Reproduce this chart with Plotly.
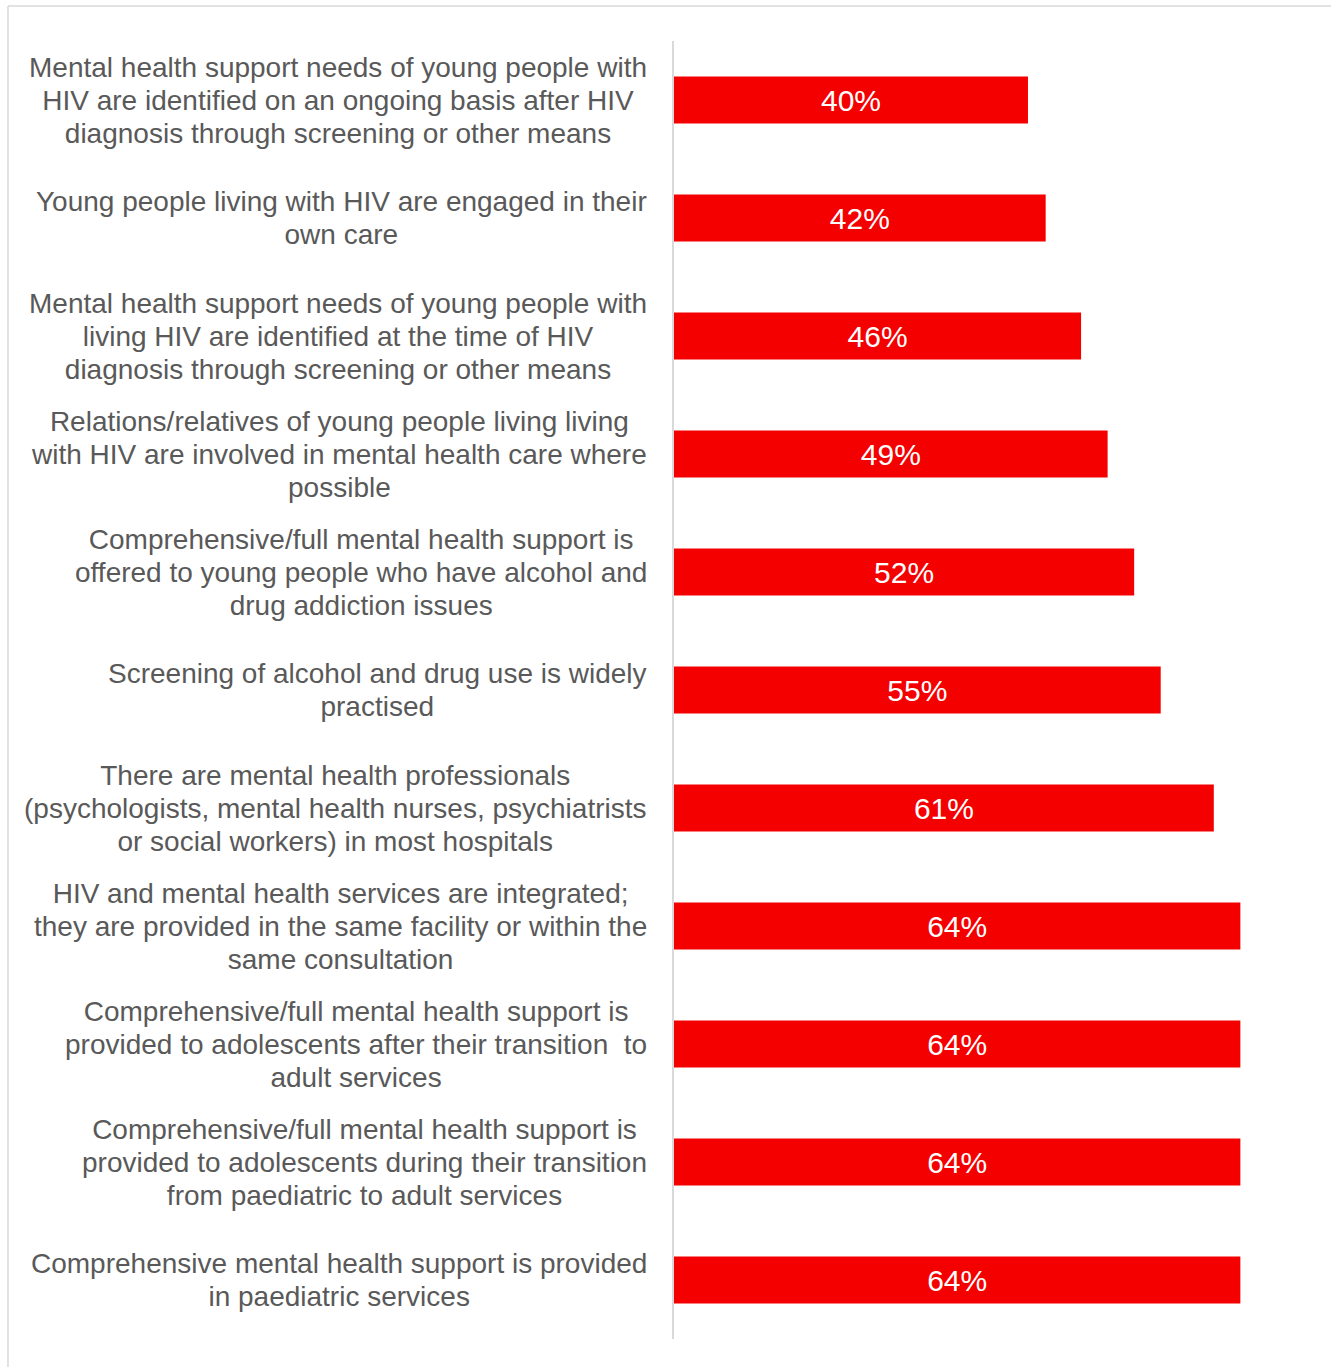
import plotly.graph_objects as go

# Survey statements (one list of lines per statement) and share agreeing (%)
statement_lines = [
    ["Mental health support needs of young people with",
     "HIV are identified on an ongoing basis after HIV",
     "diagnosis through screening or other means"],
    ["Young people living with HIV are engaged in their",
     "own care"],
    ["Mental health support needs of young people with",
     "living HIV are identified at the time of HIV",
     "diagnosis through screening or other means"],
    ["Relations/relatives of young people living living",
     "with HIV are involved in mental health care where",
     "possible"],
    ["Comprehensive/full mental health support is",
     "offered to young people who have alcohol and",
     "drug addiction issues"],
    ["Screening of alcohol and drug use is widely",
     "practised"],
    ["There are mental health professionals",
     "(psychologists, mental health nurses, psychiatrists",
     "or social workers) in most hospitals"],
    ["HIV and mental health services are integrated;",
     "they are provided in the same facility or within the",
     "same consultation"],
    ["Comprehensive/full mental health support is",
     "provided to adolescents after their transition  to",
     "adult services"],
    ["Comprehensive/full mental health support is",
     "provided to adolescents during their transition",
     "from paediatric to adult services"],
    ["Comprehensive mental health support is provided",
     "in paediatric services"],
]
percentages = [40, 42, 46, 49, 52, 55, 61, 64, 64, 64, 64]

categories = [" ".join(lines) for lines in statement_lines]

BAR_RED = "#F40000"
TEXT_GREY = "#595959"
RULE_GREY = "#D9D9D9"
FONT = "Liberation Sans, Arial, sans-serif"

fig = go.Figure(
    go.Bar(
        x=percentages,
        y=categories,
        orientation="h",
        width=0.4,
        marker=dict(color=BAR_RED, line=dict(width=0)),
        text=[f"{v}%" for v in percentages],
        textposition="inside",
        insidetextanchor="middle",
        textangle=0,
        textfont=dict(family=FONT, size=30, color="white"),
        hoverinfo="skip",
    )
)

# Centered multi-line statement labels to the left of the bars
for cat, lines in zip(categories, statement_lines):
    text = "<br>".join(
        f'<span style="font-size:28px">{ln}</span>' for ln in lines
    )
    fig.add_annotation(
        x=0, xref="paper", y=cat, yref="y",
        xanchor="right", yanchor="middle", align="center",
        xshift=-25,
        text=text, showarrow=False,
        font=dict(family=FONT, size=25.4, color=TEXT_GREY),
    )

# Light frame along the top and left edges
fig.add_shape(type="line", xref="paper", yref="paper",
              x0=-1.031, x1=1.02, y0=1.0270, y1=1.0270,
              line=dict(color=RULE_GREY, width=1.5))
fig.add_shape(type="line", xref="paper", yref="paper",
              x0=-1.031, x1=-1.031, y0=1.0270, y1=-0.03,
              line=dict(color=RULE_GREY, width=1.5))

fig.update_layout(
    width=1331, height=1367,
    margin=dict(l=674, r=11, t=41, b=28),
    paper_bgcolor="white", plot_bgcolor="white",
    showlegend=False,
    uniformtext=dict(minsize=10, mode="show"),
    xaxis=dict(range=[0, 73], visible=False, fixedrange=True),
    yaxis=dict(
        categoryorder="array", categoryarray=categories,
        autorange="reversed",
        showticklabels=False, ticks="",
        showline=True, linecolor=RULE_GREY, linewidth=2,
        showgrid=False, zeroline=False,
    ),
)

fig.write_html("out.html")
